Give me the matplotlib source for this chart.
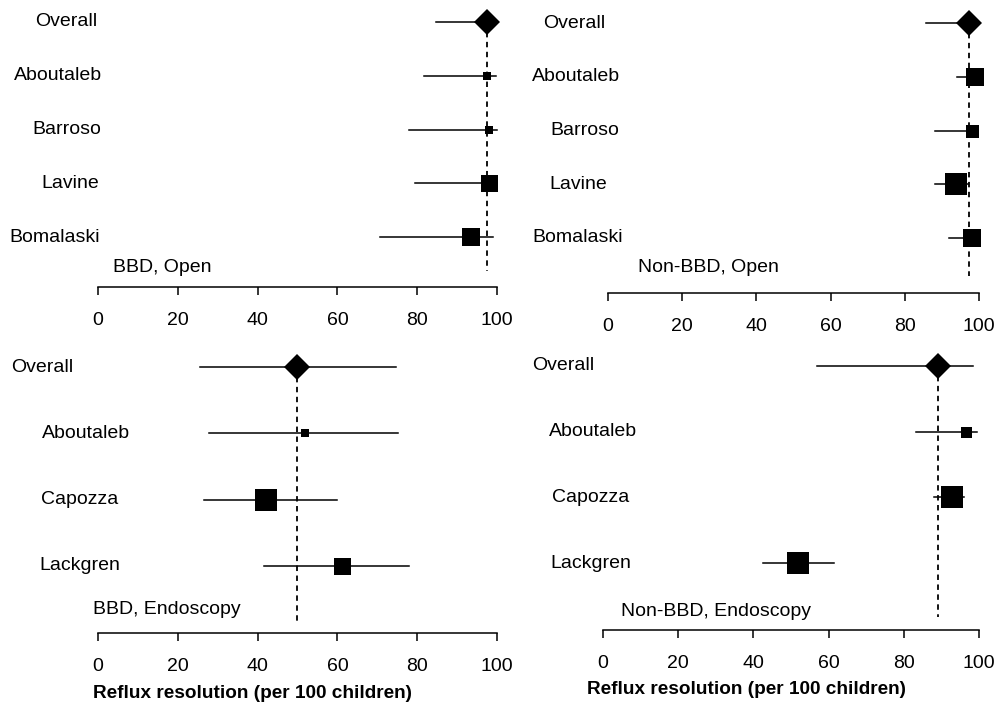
import matplotlib
matplotlib.use('Agg')
import matplotlib.pyplot as plt
from matplotlib.transforms import blended_transform_factory

plt.rcParams['font.family'] = ['Liberation Sans', 'DejaVu Sans']

# ---------------- data ----------------
tl_titles = "BBD, Open"
tl_labels = ["Overall", "Aboutaleb", "Barroso", "Lavine", "Bomalaski"]
tl_est = [97.5, 97.5, 98.0, 98.0, 93.4]
tl_lo = [84.7, 81.7, 78.0, 79.5, 70.7]
tl_hi = [99.5, 99.7, 100.0, 99.5, 99.0]
tl_weight = [0, 8, 8, 17, 18]

tr_titles = "Non-BBD, Open"
tr_labels = ["Overall", "Aboutaleb", "Barroso", "Lavine", "Bomalaski"]
tr_est = [97.2, 99.0, 98.0, 93.9, 98.2]
tr_lo = [85.8, 94.0, 88.2, 88.2, 92.0]
tr_hi = [99.8, 100.0, 99.8, 97.0, 99.8]
tr_weight = [0, 18, 13, 22, 18]

bl_titles = "BBD, Endoscopy"
bl_labels = ["Overall", "Aboutaleb", "Capozza", "Lackgren"]
bl_est = [49.8, 52.0, 42.0, 61.1]
bl_lo = [25.6, 27.9, 26.6, 41.6]
bl_hi = [74.8, 75.3, 60.0, 77.9]
bl_weight = [0, 8, 22, 17]

br_titles = "Non-BBD, Endoscopy"
br_labels = ["Overall", "Aboutaleb", "Capozza", "Lackgren"]
br_est = [89.2, 96.6, 92.9, 51.9]
br_lo = [57.0, 83.3, 87.9, 42.6]
br_hi = [98.5, 99.5, 96.0, 61.5]
br_weight = [0, 11, 22, 22]

xticks = [0, 20, 40, 60, 80, 100]
xlabel = "Reflux resolution (per 100 children)"

# ---------------- layout ----------------
W, H = 1000, 707
fig = plt.figure(figsize=(10, 7.07), dpi=100)
FS = 14


def panel(labels, est, lo, hi, weight, title, box, row0, sp,
          label_x, title_x, title_y, dash_end_px, show_xlabel=False, xlabel_x=0, xlabel_y=0):
    x0, x1, ytop, yaxis = box
    ax = fig.add_axes([x0 / W, 1 - yaxis / H, (x1 - x0) / W, (yaxis - ytop) / H])
    ax.set_xlim(0, 100)
    ax.set_ylim((yaxis - row0) / sp, (ytop - row0) / sp)
    ax.patch.set_visible(False)
    for s in ['left', 'top', 'right']:
        ax.spines[s].set_visible(False)
    ax.spines['bottom'].set_linewidth(1.1)
    ax.set_yticks([])
    ax.set_xticks(xticks)
    ax.tick_params(axis='x', direction='out', length=5.5, width=1.1,
                   labelsize=FS, pad=12.5)

    ys = list(range(len(labels)))
    # pooled reference line
    ax.plot([est[0], est[0]], [0, (dash_end_px - row0) / sp], color='black',
            lw=1.3, linestyle=(0, (3, 2.5)), zorder=1)
    for i, y in enumerate(ys):
        ax.plot([lo[i], hi[i]], [y, y], color='black', lw=1.1, zorder=2,
                clip_on=False)
        if i == 0:
            ax.plot([est[i]], [y], marker='D', ms=13.5, color='black',
                    mew=0, zorder=3, clip_on=False)
        else:
            ax.plot([est[i]], [y], marker='s', ms=weight[i] * 0.72,
                    color='black', mew=0, zorder=3, clip_on=False)
    tr = blended_transform_factory(fig.transFigure, ax.transData)
    for i, y in enumerate(ys):
        ax.text(label_x[i] / W, y, labels[i], transform=tr, ha='left',
                va='center', fontsize=FS)
    ax.text(title_x / W, (title_y - row0) / sp, title, transform=tr,
            ha='left', va='center', fontsize=FS)
    if show_xlabel:
        fig.text(xlabel_x / W, 1 - xlabel_y / H, xlabel, ha='left',
                 va='center', fontsize=13.7, fontweight='bold')
    return ax


panel(tl_labels, tl_est, tl_lo, tl_hi, tl_weight, tl_titles,
      (98, 497, 0, 287), 22, 53.75,
      [35, 14, 32, 41, 9], 113, 268, 271)
panel(tr_labels, tr_est, tr_lo, tr_hi, tr_weight, tr_titles,
      (608, 979, 0, 293), 23, 53.75,
      [543, 532, 550, 549, 532], 638, 268, 276)
panel(bl_labels, bl_est, bl_lo, bl_hi, bl_weight, bl_titles,
      (98, 497, 340, 633), 367, 66.3,
      [11, 42, 41, 39], 93, 609, 622, True, 93, 693)
panel(br_labels, br_est, br_lo, br_hi, br_weight, br_titles,
      (603, 979, 340, 630), 366, 65.7,
      [532, 549, 552, 550], 621, 612, 617, True, 587, 690)

fig.savefig('out.png', dpi=100)
